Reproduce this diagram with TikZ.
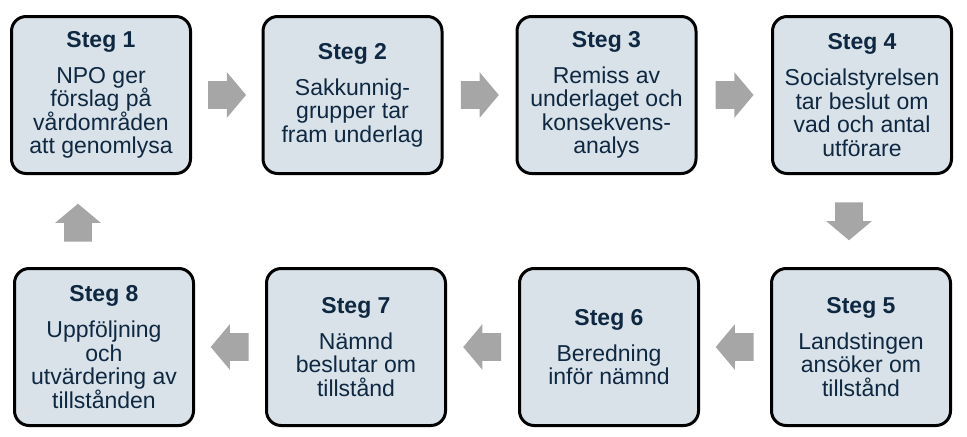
\documentclass[tikz,border=0pt]{standalone}
\usepackage{fontspec}
\setmainfont{Liberation Sans}
\usetikzlibrary{shapes.arrows,calc}
\definecolor{boxfill}{RGB}{217,226,233}
\definecolor{stegtext}{RGB}{14,40,65}
\definecolor{pilgray}{RGB}{166,166,166}
\tikzset{
  stegbox/.style={draw=black, line width=2.25pt, rounded corners=11pt,
    fill=boxfill, text=stegtext, minimum width=134.25pt, minimum height=117.75pt,
    align=center, inner sep=0pt, font=\fontsize{17.25}{17.6}\selectfont},
  stegpil/.style={single arrow, fill=pilgray, draw=none, inner sep=0pt,
    text height=20.25pt, text depth=0pt, minimum height=28.5pt,
    single arrow head extend=6.75pt, single arrow tip angle=100, anchor=tail},
}
\begin{document}
\begin{tikzpicture}[x=0.75pt,y=-0.75pt]
	\useasboundingbox (0,0) rectangle (967,436);
	% top row
	\node[stegbox] (s1) at (101,95) {\textbf{Steg 1}\\[9.4pt]NPO ger\\förslag på\\vårdområden\\att genomlysa};
	\node[stegbox] (s2) at (352.5,95) {\textbf{Steg 2}\\[9.4pt]Sakkunnig-\\grupper tar\\fram underlag};
	\node[stegbox] (s3) at (606.5,95) {\textbf{Steg 3}\\[9.4pt]Remiss av\\underlaget och\\konsekvens-\\analys};
	\node[stegbox] (s4) at (862,95) {\textbf{Steg 4}\\[9.4pt]Socialstyrelsen\\tar beslut om\\vad och antal\\utförare};
	% bottom row
	\node[stegbox] (s5) at (861,347) {\textbf{Steg 5}\\[9.4pt]Landstingen\\ansöker om\\tillstånd};
	\node[stegbox] (s6) at (609,347) {\textbf{Steg 6}\\[9.4pt]Beredning\\inför nämnd};
	\node[stegbox] (s7) at (356,347) {\textbf{Steg 7}\\[9.4pt]Nämnd\\beslutar om\\tillstånd};
	\node[stegbox] (s8) at (104,347) {\textbf{Steg 8}\\[9.4pt]Uppföljning\\och\\utvärdering av\\tillstånden};
	% arrows (placed by their tail)
	\node[stegpil] (p12) at ($(s1.east)!0.5!(s2.west)+(-19,0)$) {};
	\node[stegpil] (p23) at ($(s2.east)!0.5!(s3.west)+(-19,0)$) {};
	\node[stegpil] (p34) at ($(s3.east)!0.5!(s4.west)+(-19,0)$) {};
	\node[stegpil,rotate=-90] (p45) at (849,202) {};
	\node[stegpil,rotate=180] (p56) at ($(s5.west)!0.5!(s6.east)+(19,0)$) {};
	\node[stegpil,rotate=180] (p67) at ($(s6.west)!0.5!(s7.east)+(19,0)$) {};
	\node[stegpil,rotate=180] (p78) at ($(s7.west)!0.5!(s8.east)+(19,0)$) {};
	\node[stegpil,rotate=90] (p81) at (78,242) {};
\end{tikzpicture}
\end{document}
